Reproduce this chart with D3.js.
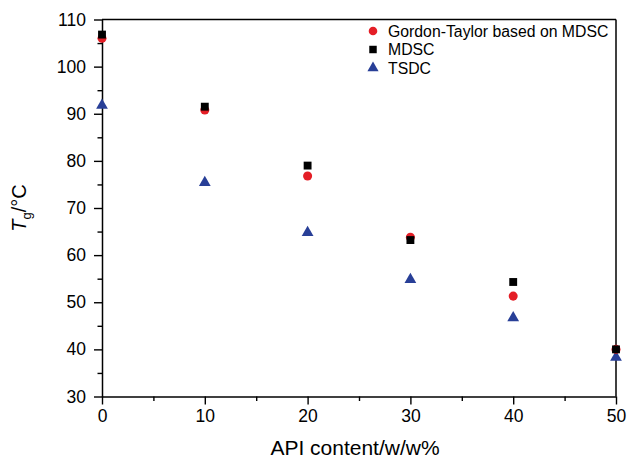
<!DOCTYPE html>
<html>
<head>
<meta charset="utf-8">
<script src="https://cdn.jsdelivr.net/npm/d3@7"></script>
<style>
  body { margin: 0; background: #fff; }
  svg text { font-family: "Liberation Sans", Arial, Helvetica, sans-serif; fill: #000; }
</style>
</head>
<body>
<div id="chart"></div>
<script>
// API content (w/w %)
const apiContent = [0, 10, 20, 30, 40, 50];

// Tg values (°C)
const gordonTaylor = [106.0, 90.8, 76.8, 63.8, 51.3, 40.0];
const mdsc = [106.8, 91.5, 79.0, 63.2, 54.3, 40.0];
const tsdc = [91.8, 75.4, 64.8, 54.8, 46.7, 38.3];

const xMajorTicks = [0, 10, 20, 30, 40, 50];
const xMinorTicks = [5, 15, 25, 35, 45];
const yMajorTicks = [30, 40, 50, 60, 70, 80, 90, 100, 110];
const yMinorTicks = [35, 45, 55, 65, 75, 85, 95, 105];

const seriesNames = ["Gordon-Taylor based on MDSC", "MDSC", "TSDC"];

const width = 627;
const height = 459;
const margin = { top: 19.5, right: 11, bottom: 62.5, left: 102 };

const svg = d3.select("#chart")
  .append("svg")
  .attr("width", width)
  .attr("height", height);

const x = d3.scaleLinear()
  .domain([0, 50])
  .range([margin.left, width - margin.right]);

const y = d3.scaleLinear()
  .domain([30, 110])
  .range([height - margin.bottom, margin.top]);

// minor ticks first (no labels)
svg.append("g")
  .attr("transform", `translate(0, ${y(30)})`)
  .call(d3.axisBottom(x).tickValues(xMinorTicks).tickSize(4.5).tickFormat("").tickSizeOuter(0))
  .call(g => g.select(".domain").remove())
  .selectAll("line").attr("stroke-width", 1.4);

svg.append("g")
  .attr("transform", `translate(${x(0)}, 0)`)
  .call(d3.axisLeft(y).tickValues(yMinorTicks).tickSize(4.5).tickFormat("").tickSizeOuter(0))
  .call(g => g.select(".domain").remove())
  .selectAll("line").attr("stroke-width", 1.4);

// major axes
const xAxis = svg.append("g")
  .attr("transform", `translate(0, ${y(30)})`)
  .call(d3.axisBottom(x).tickValues(xMajorTicks).tickSize(8).tickPadding(5).tickSizeOuter(0));

const yAxis = svg.append("g")
  .attr("transform", `translate(${x(0)}, 0)`)
  .call(d3.axisLeft(y).tickValues(yMajorTicks).tickSize(8).tickPadding(8).tickSizeOuter(0));

[xAxis, yAxis].forEach(a => {
  a.selectAll("line").attr("stroke-width", 1.4);
  a.select(".domain").attr("stroke-width", 1.5);
  a.selectAll("text").attr("font-size", "17.5px");
});

// frame on the top and right
svg.append("line")
  .attr("x1", x(0)).attr("x2", x(50))
  .attr("y1", y(110)).attr("y2", y(110))
  .attr("stroke", "#000").attr("stroke-width", 1.5);

svg.append("line")
  .attr("x1", x(50)).attr("x2", x(50))
  .attr("y1", y(110)).attr("y2", y(30))
  .attr("stroke", "#000").attr("stroke-width", 1.5);

// markers
const styles = [
  { name: seriesNames[0], values: gordonTaylor, type: d3.symbolCircle, size: 64, color: "#e41e26" },
  { name: seriesNames[1], values: mdsc, type: d3.symbolSquare, size: 62, color: "#000000" },
  { name: seriesNames[2], values: tsdc, type: d3.symbolTriangle, size: 60, color: "#283f97" }
];

const drawOrder = [2, 0, 1];
drawOrder.forEach(i => {
  const s = styles[i];
  svg.append("g")
    .selectAll("path")
    .data(apiContent.map((c, j) => ({ c, v: s.values[j] })))
    .enter()
    .append("path")
    .attr("d", d3.symbol().type(s.type).size(s.size))
    .attr("transform", d => `translate(${x(d.c)}, ${y(d.v)})`)
    .attr("fill", s.color);
});

// legend in the top right corner
const legend = svg.append("g")
  .attr("transform", "translate(373, 31)");

legend.selectAll("path")
  .data(styles)
  .enter()
  .append("path")
  .attr("d", d => d3.symbol().type(d.type).size(d.size * 0.9)())
  .attr("transform", (d, i) => `translate(0, ${i * 18.5})`)
  .attr("fill", d => d.color);

legend.selectAll("text")
  .data(styles)
  .enter()
  .append("text")
  .attr("x", 15)
  .attr("y", (d, i) => i * 18.5)
  .attr("dy", "0.36em")
  .attr("font-size", "15.8px")
  .text(d => d.name);

// axis titles
svg.append("text")
  .attr("x", 355)
  .attr("y", 455)
  .attr("text-anchor", "middle")
  .attr("font-size", "21px")
  .text("API content/w/w%");

const yTitle = svg.append("text")
  .attr("transform", `translate(26, ${(y(30) + y(110)) / 2}) rotate(-90)`)
  .attr("text-anchor", "middle")
  .attr("font-size", "20px");

yTitle.append("tspan").attr("font-style", "italic").text("T");
yTitle.append("tspan").attr("font-size", "13px").attr("dy", "5").text("g");
yTitle.append("tspan").attr("dy", "-5").text("/°C");
</script>
</body>
</html>
